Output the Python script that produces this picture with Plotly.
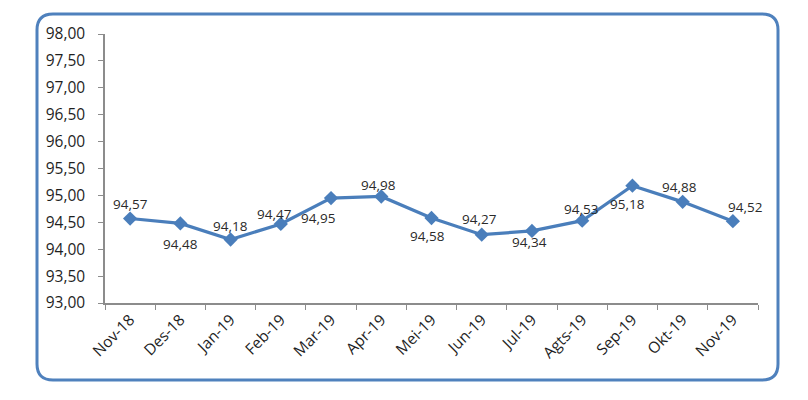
import plotly.graph_objects as go

categories = ["Nov-18", "Des-18", "Jan-19", "Feb-19", "Mar-19", "Apr-19", "Mei-19",
              "Jun-19", "Jul-19", "Agts-19", "Sep-19", "Okt-19", "Nov-19"]
values = [94.57, 94.48, 94.18, 94.47, 94.95, 94.98, 94.58, 94.27, 94.34, 94.53, 95.18, 94.88, 94.52]
y_ticks = [93, 93.5, 94, 94.5, 95, 95.5, 96, 96.5, 97, 97.5, 98]

# label offsets (pixels) relative to each point
label_dx = [0, 0, 0, -6, -13, -3, -4, -2, -2, -1, -5, -3, 12]
label_dy = [15, -21, 14, 10, -20, 11, -18, 16, -11, 12, -18, 15, 14]

# page body has an 8px margin
OFF = 8
W, H = 808 - OFF, 400 - OFF
L, R, T, B = 105 - OFF, 50, 34 - OFF, 97
pw, ph = W - L - R, H - T - B

color = "#4A7EBB"
axis_col = "#8C8C8C"
font_fam = "Open Sans, Noto Sans, sans-serif"
txt_col = "#1F1F1F"

fig = go.Figure()
fig.add_trace(go.Scatter(
    x=categories, y=values, mode="lines+markers",
    line=dict(color=color, width=3.2),
    marker=dict(symbol="diamond", size=11, color=color),
    showlegend=False, hoverinfo="skip",
))

for i, (c, v) in enumerate(zip(categories, values)):
    fig.add_annotation(
        x=c, y=v, text=f"{v:.2f}".replace(".", ","), showarrow=False,
        xshift=label_dx[i], yshift=label_dy[i],
        font=dict(family=font_fam, size=13.5, color="#2A2A2A"),
    )

# rounded border
def P(x, y):
    a, b = (x - OFF - L) / pw, (H - B - (y - OFF)) / ph
    return f"{a:.5f},{b:.5f}"

x0, y0, x1, y1, r = 37, 14, 778, 380, 16
path = (f"M {P(x0 + r, y0)} L {P(x1 - r, y0)} Q {P(x1, y0)} {P(x1, y0 + r)} "
        f"L {P(x1, y1 - r)} Q {P(x1, y1)} {P(x1 - r, y1)} "
        f"L {P(x0 + r, y1)} Q {P(x0, y1)} {P(x0, y1 - r)} "
        f"L {P(x0, y0 + r)} Q {P(x0, y0)} {P(x0 + r, y0)} Z")
fig.add_shape(type="path", path=path, xref="paper", yref="paper",
              line=dict(color="#4F81BD", width=3), layer="below")

fig.update_layout(
    width=W, height=H, margin=dict(l=L, r=R, t=T, b=B),
    paper_bgcolor="white", plot_bgcolor="white",
    separators=",.",
    font=dict(family=font_fam, size=13, color=txt_col),
    xaxis=dict(
        type="category", range=[-0.5, 12.5], tickson="boundaries",
        ticks="outside", ticklen=5, tickcolor=axis_col, tickangle=-45,
        showline=True, linecolor=axis_col, linewidth=1.5, showgrid=False,
        tickfont=dict(size=15.5, family=font_fam, color=txt_col),
    ),
    yaxis=dict(
        range=[93, 98], tickvals=y_ticks, tickformat=".2f",
        ticks="outside", ticklen=5, tickcolor=axis_col,
        showline=True, linecolor=axis_col, linewidth=1.5, showgrid=False,
        zeroline=False, ticklabelstandoff=10,
        tickfont=dict(size=15.5, family=font_fam, color=txt_col),
    ),
)

fig.write_html("out.html")
